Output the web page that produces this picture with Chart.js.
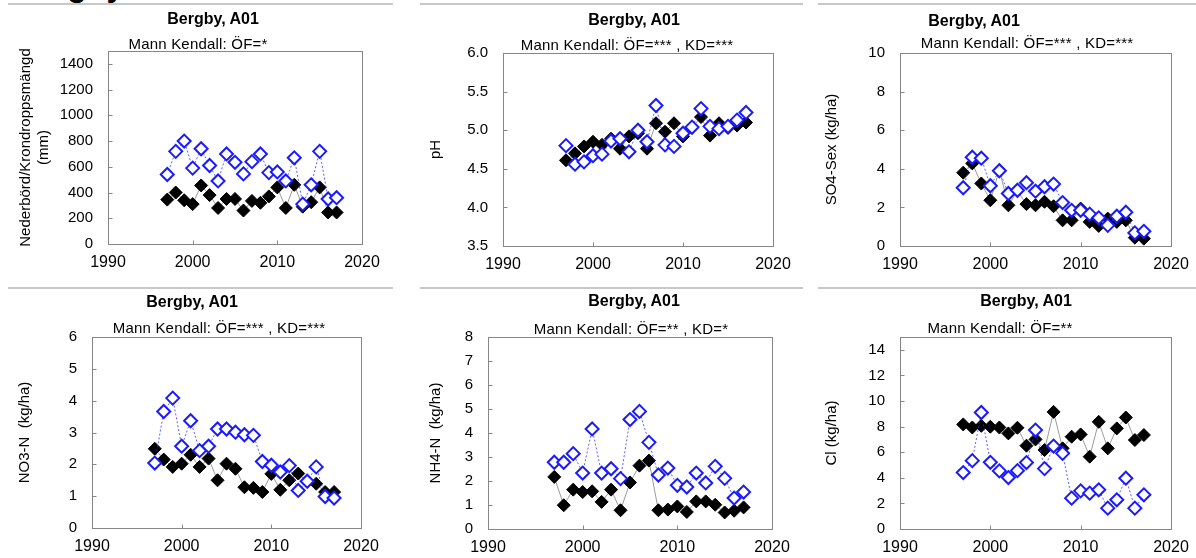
<!DOCTYPE html>
<html>
<head>
<meta charset="utf-8">
<script src="https://cdn.jsdelivr.net/npm/chart.js@4.4.0/dist/chart.umd.min.js"></script>
<style>
  body { margin: 0; background: #fff; width: 1196px; height: 558px; overflow: hidden; position: relative;
         font-family: "Liberation Sans", Arial, sans-serif; }
  .rule { position: absolute; height: 2px; background: #c8c8c8; }
  .txt { position: absolute; white-space: nowrap; transform: translateX(-50%); color: #000; }
  .title { font-weight: bold; font-size: 16px; line-height: 16px; }
  .sub { font-size: 15px; line-height: 15px; letter-spacing: 0.2px; }
  #head { position: absolute; left: 14px; top: -31px; font-weight: bold; font-size: 32px; line-height: 32px; }
  canvas { position: absolute; }
</style>
</head>
<body>
<div id="head">Bergby</div>

<script>
// years 1997-2017, blue = öppet fält (ÖF), black = krondropp (KD)
const years = [1997, 1998, 1999, 2000, 2001, 2002, 2003, 2004, 2005, 2006, 2007,
               2008, 2009, 2010, 2011, 2012, 2013, 2014, 2015, 2016, 2017];
const xTicks = [1990, 2000, 2010, 2020];

const nederbordOF = [540, 720, 800, 590, 740, 610, 490, 700, 635, 545, 640, 700, 555, 560, 490, 670, 310, 460, 720, 350, 360];
const nederbordKD = [345, 400, 340, 310, 455, 380, 280, 350, 350, 260, 335, 320, 370, 440, 280, 460, 290, 325, 440, 245, 245];

const phOF = [4.80, 4.56, 4.59, 4.67, 4.69, 4.86, 4.89, 4.72, 5.00, 4.85, 5.32, 4.81, 4.79, 4.96, 5.04, 5.28, 5.05, 5.02, 5.05, 5.13, 5.23];
const phKD = [4.61, 4.70, 4.79, 4.85, 4.81, 4.89, 4.76, 4.92, 4.96, 4.76, 5.09, 4.98, 5.09, 4.92, 5.03, 5.17, 4.93, 5.09, 5.03, 5.06, 5.10];

const so4OF = [3.02, 4.60, 4.55, 3.12, 3.90, 2.72, 2.89, 3.28, 2.84, 3.07, 3.21, 2.25, 1.85, 1.85, 1.65, 1.46, 1.07, 1.54, 1.75, 0.68, 0.76];
const so4KD = [3.80, 4.28, 3.24, 2.37, 3.93, 2.11, 2.85, 2.17, 2.11, 2.29, 2.06, 1.33, 1.33, 1.94, 1.25, 1.04, 1.42, 1.25, 1.33, 0.43, 0.38];

const no3OF = [2.04, 3.66, 4.08, 2.57, 3.37, 2.43, 2.57, 3.11, 3.11, 3.01, 2.93, 2.91, 2.09, 1.97, 1.76, 1.96, 1.18, 1.47, 1.92, 0.99, 0.94];
const no3KD = [2.49, 2.15, 1.92, 2.02, 2.30, 1.92, 2.18, 1.50, 2.02, 1.86, 1.28, 1.26, 1.13, 1.70, 1.20, 1.50, 1.71, 1.45, 1.39, 1.13, 1.13];

const nh4OF = [2.78, 2.78, 3.14, 2.33, 4.17, 2.33, 2.51, 2.10, 4.56, 4.90, 3.61, 2.25, 2.54, 1.82, 1.75, 2.33, 1.92, 2.61, 2.11, 1.29, 1.54];
const nh4KD = [2.17, 0.99, 1.64, 1.54, 1.57, 1.13, 1.64, 0.78, 1.94, 2.64, 2.85, 0.78, 0.81, 0.94, 0.71, 1.15, 1.15, 1.01, 0.69, 0.76, 0.90];

const clOF = [4.41, 5.34, 9.10, 5.21, 4.54, 4.02, 4.56, 5.19, 7.73, 4.72, 6.48, 5.91, 2.41, 2.98, 2.80, 3.06, 1.63, 2.28, 3.97, 1.63, 2.67];
const clKD = [8.17, 7.93, 8.06, 7.99, 7.93, 7.47, 7.91, 6.51, 7.00, 6.17, 9.15, 6.30, 7.21, 7.39, 5.65, 8.37, 6.30, 7.86, 8.71, 6.95, 7.34];

const nederbordTicks = [0, 200, 400, 600, 800, 1000, 1200, 1400];
const phTicks = [3.5, 4.0, 4.5, 5.0, 5.5, 6.0];
const so4Ticks = [0, 2, 4, 6, 8, 10];
const no3Ticks = [0, 1, 2, 3, 4, 5, 6];
const nh4Ticks = [0, 1, 2, 3, 4, 5, 6, 7, 8];
const clTicks = [0, 2, 4, 6, 8, 10, 12, 14];

const stationTitle = "Bergby, A01";
const subtitles = [
  "Mann Kendall: ÖF=*",
  "Mann Kendall: ÖF=*** , KD=***",
  "Mann Kendall: ÖF=*** , KD=***",
  "Mann Kendall: ÖF=*** , KD=***",
  "Mann Kendall: ÖF=** , KD=*",
  "Mann Kendall: ÖF=**"
];
const yTitles = [
  ["Nederbörd/Krondroppsmängd", "(mm)"],
  "pH",
  "SO4-Sex (kg/ha)",
  "NO3-N  (kg/ha)",
  "NH4-N  (kg/ha)",
  "Cl (kg/ha)"
];

// layout: plot box in page pixels, y-title centre, title/subtitle centres
const panels = [
  { of: nederbordOF, kd: nederbordKD, ticks: nederbordTicks, min: 0, max: 1500, dec: 0,
    box: [108, 51, 362, 244], yTitleX: 25, title: [213, 19], sub: [198, 43] },
  { of: phOF, kd: phKD, ticks: phTicks, min: 3.5, max: 6.0, dec: 1,
    box: [503, 53, 773, 246], yTitleX: 435, title: [634, 20], sub: [627, 44] },
  { of: so4OF, kd: so4KD, ticks: so4Ticks, min: 0, max: 10, dec: 0,
    box: [900, 53, 1171, 246], yTitleX: 831, title: [974, 21], sub: [1027, 42] },
  { of: no3OF, kd: no3KD, ticks: no3Ticks, min: 0, max: 6, dec: 0,
    box: [92, 337, 361, 528], yTitleX: 24, title: [192, 302], sub: [219, 327] },
  { of: nh4OF, kd: nh4KD, ticks: nh4Ticks, min: 0, max: 8, dec: 0,
    box: [488, 337, 772, 529], yTitleX: 435, title: [634, 301], sub: [631, 328] },
  { of: clOF, kd: clKD, ticks: clTicks, min: 0, max: 15, dec: 0,
    box: [900, 337, 1171, 529], yTitleX: 831, title: [1026, 301], sub: [1000, 327] }
];

// grey rules under the page headings
[3, 287].forEach(y => {
  [[8, 393], [420, 803], [818, 1196]].forEach(([a, b]) => {
    const d = document.createElement("div");
    d.className = "rule";
    d.style.left = a + "px";
    d.style.width = (b - a) + "px";
    d.style.top = y + "px";
    document.body.appendChild(d);
  });
});

Chart.defaults.font.family = '"Liberation Sans", Arial, sans-serif';
Chart.defaults.color = "#000";

// plot frame plus small inward tick marks, like the spreadsheet original
const frame = {
  id: "frame",
  beforeDatasetsDraw(chart) {
    const a = chart.chartArea, ctx = chart.ctx;
    const x0 = Math.round(a.left) + 0.5, y0 = Math.round(a.top) + 0.5;
    const x1 = Math.round(a.right) + 0.5, y1 = Math.round(a.bottom) + 0.5;
    ctx.save();
    ctx.strokeStyle = "#868686";
    ctx.lineWidth = 1;
    ctx.strokeRect(x0, y0, x1 - x0, y1 - y0);
    ctx.beginPath();
    chart.scales.x.ticks.forEach(t => {
      const px = Math.round(chart.scales.x.getPixelForValue(t.value)) + 0.5;
      ctx.moveTo(px, y1); ctx.lineTo(px, y1 - 4);
    });
    chart.scales.y.ticks.forEach(t => {
      const py = Math.round(chart.scales.y.getPixelForValue(t.value)) + 0.5;
      ctx.moveTo(x0, py); ctx.lineTo(x0 + 4, py);
    });
    ctx.stroke();
    ctx.restore();
  }
};

// padTop/padRight must exceed the label overflow Chart.js reserves (half label + tick padding)
const padTop = 30, padRight = 36, xAxisH = 34, titleLH = 15 * 1.25;

panels.forEach((p, i) => {
  const [l, t, r, b] = p.box;
  const cLeft = Math.round(p.yTitleX - titleLH / 2);
  const cTop = t - padTop;
  const w = r + padRight - cLeft;
  const h = b + xAxisH - cTop;

  const canvas = document.createElement("canvas");
  canvas.width = w; canvas.height = h;
  canvas.style.left = cLeft + "px"; canvas.style.top = cTop + "px";
  canvas.style.width = w + "px"; canvas.style.height = h + "px";
  document.body.appendChild(canvas);

  const toXY = vals => years.map((yr, k) => ({ x: yr, y: vals[k] }));

  new Chart(canvas.getContext("2d"), {
    type: "scatter",
    data: {
      datasets: [
        {
          label: "ÖF",
          data: toXY(p.of),
          showLine: true,
          order: 0,
          borderColor: "rgba(40,40,255,0.75)",
          borderWidth: 1,
          borderDash: [2, 2],
          pointStyle: "rectRot",
          pointRadius: 6.5,
          pointBackgroundColor: "#fff",
          pointBorderColor: "#1a1aff",
          pointBorderWidth: 2
        },
        {
          label: "KD",
          data: toXY(p.kd),
          showLine: true,
          order: 1,
          borderColor: "#9a9a9a",
          borderWidth: 1,
          pointStyle: "rectRot",
          pointRadius: 6.5,
          pointBackgroundColor: "#000",
          pointBorderColor: "#000",
          pointBorderWidth: 1
        }
      ]
    },
    options: {
      responsive: false,
      animation: false,
      events: [],
      layout: { padding: { left: 0, top: padTop, right: padRight, bottom: 0 } },
      plugins: { legend: { display: false }, tooltip: { enabled: false } },
      scales: {
        x: {
          type: "linear",
          min: 1990, max: 2020,
          afterBuildTicks: s => { s.ticks = xTicks.map(v => ({ value: v })); },
          afterFit: s => { s.height = xAxisH; },
          grid: { display: false, drawTicks: false },
          border: { display: false },
          ticks: { font: { size: 16 }, padding: 9, maxRotation: 0, callback: v => String(v) }
        },
        y: {
          type: "linear",
          min: p.min, max: p.max,
          afterBuildTicks: s => { s.ticks = p.ticks.map(v => ({ value: v })); },
          afterFit: s => { s.width = l - cLeft; },
          grid: { display: false, drawTicks: false },
          border: { display: false },
          ticks: { font: { size: 15 }, padding: 15, callback: v => v.toFixed(p.dec) },
          title: { display: true, text: yTitles[i], font: { size: 15, lineHeight: 1.25 }, padding: 0 }
        }
      }
    },
    plugins: [frame]
  });

  const tt = document.createElement("div");
  tt.className = "txt title";
  tt.textContent = stationTitle;
  tt.style.left = p.title[0] + "px";
  tt.style.top = (p.title[1] - 8) + "px";
  document.body.appendChild(tt);

  const st = document.createElement("div");
  st.className = "txt sub";
  st.textContent = subtitles[i];
  st.style.left = p.sub[0] + "px";
  st.style.top = (p.sub[1] - 7) + "px";
  document.body.appendChild(st);
});
</script>
</body>
</html>
